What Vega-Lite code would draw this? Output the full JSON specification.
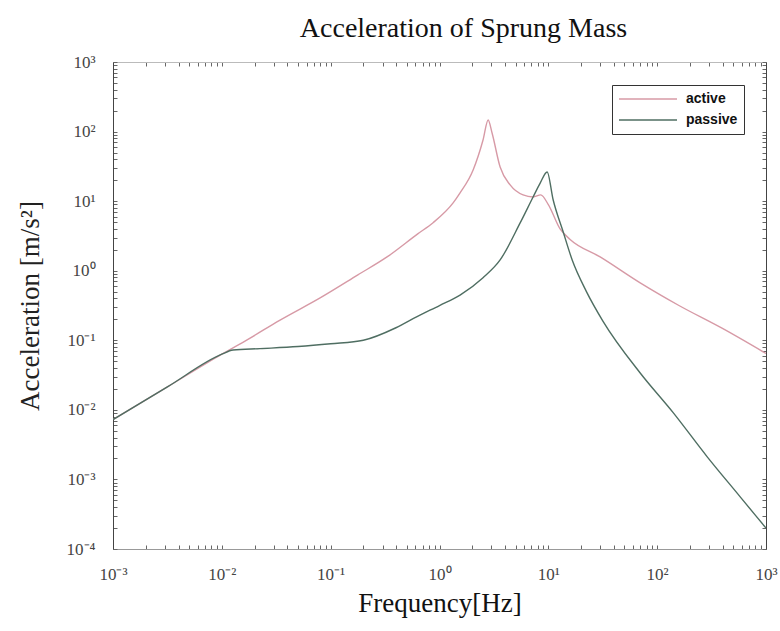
{
  "$schema": "https://vega.github.io/schema/vega-lite/v6.json",
  "width": 653,
  "height": 487,
  "autosize": {"type": "none"},
  "padding": {"left": 113, "top": 62, "right": 14, "bottom": 82},
  "background": "white",
  "title": {"text": "Acceleration of Sprung Mass", "font": "Liberation Serif", "fontSize": 28, "fontWeight": "normal", "color": "#111", "offset": 20, "anchor": "middle", "baseline": "bottom", "dy": 38, "dx": 24},
  "config": {"view": {"stroke": null}, "font": "Liberation Serif"},
  "data": {"values": [
    {"series": "active", "freq": 0.001, "acc": 0.00724},
    {"series": "active", "freq": 0.003162, "acc": 0.02138},
    {"series": "active", "freq": 0.01, "acc": 0.0631},
    {"series": "active", "freq": 0.01706, "acc": 0.1014},
    {"series": "active", "freq": 0.03428, "acc": 0.195},
    {"series": "active", "freq": 0.07998, "acc": 0.4064},
    {"series": "active", "freq": 0.1778, "acc": 0.871},
    {"series": "active", "freq": 0.3296, "acc": 1.578},
    {"series": "active", "freq": 0.631, "acc": 3.388},
    {"series": "active", "freq": 0.873, "acc": 4.898},
    {"series": "active", "freq": 1.334, "acc": 9.419},
    {"series": "active", "freq": 1.545, "acc": 13.12},
    {"series": "active", "freq": 2.037, "acc": 28.05},
    {"series": "active", "freq": 2.512, "acc": 75.68},
    {"series": "active", "freq": 2.799, "acc": 146.9},
    {"series": "active", "freq": 3.041, "acc": 95.5},
    {"series": "active", "freq": 3.606, "acc": 30.9},
    {"series": "active", "freq": 4.457, "acc": 17.1},
    {"series": "active", "freq": 5.861, "acc": 12.27},
    {"series": "active", "freq": 7.244, "acc": 11.48},
    {"series": "active", "freq": 8.511, "acc": 12.3},
    {"series": "active", "freq": 10, "acc": 8.913},
    {"series": "active", "freq": 12.82, "acc": 3.981},
    {"series": "active", "freq": 15.85, "acc": 2.818},
    {"series": "active", "freq": 29.92, "acc": 1.578},
    {"series": "active", "freq": 69.82, "acc": 0.6683},
    {"series": "active", "freq": 158.5, "acc": 0.3162},
    {"series": "active", "freq": 398.1, "acc": 0.1479},
    {"series": "active", "freq": 1000, "acc": 0.06457},
    {"series": "passive", "freq": 0.001, "acc": 0.00724},
    {"series": "passive", "freq": 0.003162, "acc": 0.02138},
    {"series": "passive", "freq": 0.01, "acc": 0.0631},
    {"series": "passive", "freq": 0.01268, "acc": 0.07244},
    {"series": "passive", "freq": 0.02244, "acc": 0.07586},
    {"series": "passive", "freq": 0.05012, "acc": 0.08128},
    {"series": "passive", "freq": 0.1, "acc": 0.0891},
    {"series": "passive", "freq": 0.1995, "acc": 0.1},
    {"series": "passive", "freq": 0.3981, "acc": 0.1514},
    {"series": "passive", "freq": 0.6223, "acc": 0.2188},
    {"series": "passive", "freq": 1.0, "acc": 0.3162},
    {"series": "passive", "freq": 1.545, "acc": 0.4467},
    {"series": "passive", "freq": 2.512, "acc": 0.7943},
    {"series": "passive", "freq": 3.606, "acc": 1.429},
    {"series": "passive", "freq": 5.508, "acc": 4.864},
    {"series": "passive", "freq": 7.244, "acc": 11.48},
    {"series": "passive", "freq": 8.414, "acc": 18.2},
    {"series": "passive", "freq": 9.75, "acc": 26.3},
    {"series": "passive", "freq": 11.07, "acc": 10.47},
    {"series": "passive", "freq": 13.68, "acc": 3.631},
    {"series": "passive", "freq": 16.6, "acc": 1.413},
    {"series": "passive", "freq": 22.39, "acc": 0.5012},
    {"series": "passive", "freq": 31.62, "acc": 0.1905},
    {"series": "passive", "freq": 69.82, "acc": 0.03388},
    {"series": "passive", "freq": 140.3, "acc": 0.00912},
    {"series": "passive", "freq": 288.4, "acc": 0.002113},
    {"series": "passive", "freq": 579.4, "acc": 0.000562},
    {"series": "passive", "freq": 1000, "acc": 0.0001995}
  ]},
  "resolve": {"axis": {"x": "independent", "y": "independent"}},
  "layer": [
    {
      "transform": [{"filter": "datum.series === 'active'"}],
      "mark": {"type": "line", "strokeWidth": 1.4, "clip": true, "interpolate": "monotone"},
      "encoding": {
        "x": {"field": "freq", "type": "quantitative",
          "scale": {"type": "log", "domain": [0.001, 1000], "nice": false},
          "axis": {"orient": "bottom", "grid": false,
            "values": [0.001,0.002,0.003,0.004,0.005,0.006,0.007,0.008,0.009,0.01,0.02,0.03,0.04,0.05,0.06,0.07,0.08,0.09,0.1,0.2,0.3,0.4,0.5,0.6,0.7,0.8,0.9,1,2,3,4,5,6,7,8,9,10,20,30,40,50,60,70,80,90,100,200,300,400,500,600,700,800,900,1000],
            "labelExpr": "datum.value==0.001?'10⁻³':datum.value==0.01?'10⁻²':datum.value==0.1?'10⁻¹':datum.value==1?'10⁰':datum.value==10?'10¹':datum.value==100?'10²':datum.value==1000?'10³':''",
            "labelOverlap": false, "labelFlush": false,
            "tickSize": -4, "tickColor": "#666", "domainColor": "#999",
            "labelFont": "Liberation Serif", "labelFontSize": 17, "labelColor": "#444", "labelPadding": 21,
            "title": "Frequency[Hz]", "titleFont": "Liberation Serif", "titleFontSize": 27, "titleFontWeight": "normal", "titleColor": "#111", "titlePadding": 8}},
        "y": {"field": "acc", "type": "quantitative",
          "scale": {"type": "log", "domain": [0.0001, 1000], "nice": false},
          "axis": {"orient": "left", "grid": false,
            "values": [0.0001,0.0002,0.0003,0.0004,0.0005,0.0006,0.0007,0.0008,0.0009,0.001,0.002,0.003,0.004,0.005,0.006,0.007,0.008,0.009,0.01,0.02,0.03,0.04,0.05,0.06,0.07,0.08,0.09,0.1,0.2,0.3,0.4,0.5,0.6,0.7,0.8,0.9,1,2,3,4,5,6,7,8,9,10,20,30,40,50,60,70,80,90,100,200,300,400,500,600,700,800,900,1000],
            "labelExpr": "datum.value==0.0001?'10⁻⁴':datum.value==0.001?'10⁻³':datum.value==0.01?'10⁻²':datum.value==0.1?'10⁻¹':datum.value==1?'10⁰':datum.value==10?'10¹':datum.value==100?'10²':datum.value==1000?'10³':''",
            "labelOverlap": false, "labelFlush": false,
            "tickSize": -4, "tickColor": "#666", "domainColor": "#444",
            "labelFont": "Liberation Serif", "labelFontSize": 17, "labelColor": "#444", "labelPadding": 22,
            "title": "Acceleration [m/s²]", "titleFont": "Liberation Serif", "titleFontSize": 27, "titleFontWeight": "normal", "titleColor": "#222", "titlePadding": 22}},
        "color": {"field": "series", "type": "nominal",
          "scale": {"domain": ["active", "passive"], "range": ["#d79aa6", "#4f6e62"]},
          "legend": {"orient": "none", "legendX": 499, "legendY": 23, "title": null,
            "strokeColor": "#333", "fillColor": "white", "padding": 6,
            "symbolType": "stroke", "symbolSize": 3364, "symbolStrokeWidth": 1.5,
            "clipHeight": 16, "rowPadding": 5,
            "labelFont": "Liberation Sans", "labelFontWeight": "bold", "labelFontSize": 14, "labelColor": "#111", "labelOffset": 8}}
      }
    },
    {
      "transform": [{"filter": "datum.series === 'passive'"}],
      "mark": {"type": "line", "strokeWidth": 1.4, "clip": true, "interpolate": "monotone"},
      "encoding": {
        "x": {"field": "freq", "type": "quantitative",
          "axis": {"orient": "top", "grid": false, "labels": false, "title": null,
            "values": [0.001,0.002,0.003,0.004,0.005,0.006,0.007,0.008,0.009,0.01,0.02,0.03,0.04,0.05,0.06,0.07,0.08,0.09,0.1,0.2,0.3,0.4,0.5,0.6,0.7,0.8,0.9,1,2,3,4,5,6,7,8,9,10,20,30,40,50,60,70,80,90,100,200,300,400,500,600,700,800,900,1000],
            "tickSize": -4, "tickColor": "#666", "domainColor": "#bbb"}},
        "y": {"field": "acc", "type": "quantitative",
          "axis": {"orient": "right", "grid": false, "labels": false, "title": null,
            "values": [0.0001,0.0002,0.0003,0.0004,0.0005,0.0006,0.0007,0.0008,0.0009,0.001,0.002,0.003,0.004,0.005,0.006,0.007,0.008,0.009,0.01,0.02,0.03,0.04,0.05,0.06,0.07,0.08,0.09,0.1,0.2,0.3,0.4,0.5,0.6,0.7,0.8,0.9,1,2,3,4,5,6,7,8,9,10,20,30,40,50,60,70,80,90,100,200,300,400,500,600,700,800,900,1000],
            "tickSize": -4, "tickColor": "#666", "domainColor": "#444"}},
        "color": {"field": "series", "type": "nominal"}
      }
    }
  ]
}
